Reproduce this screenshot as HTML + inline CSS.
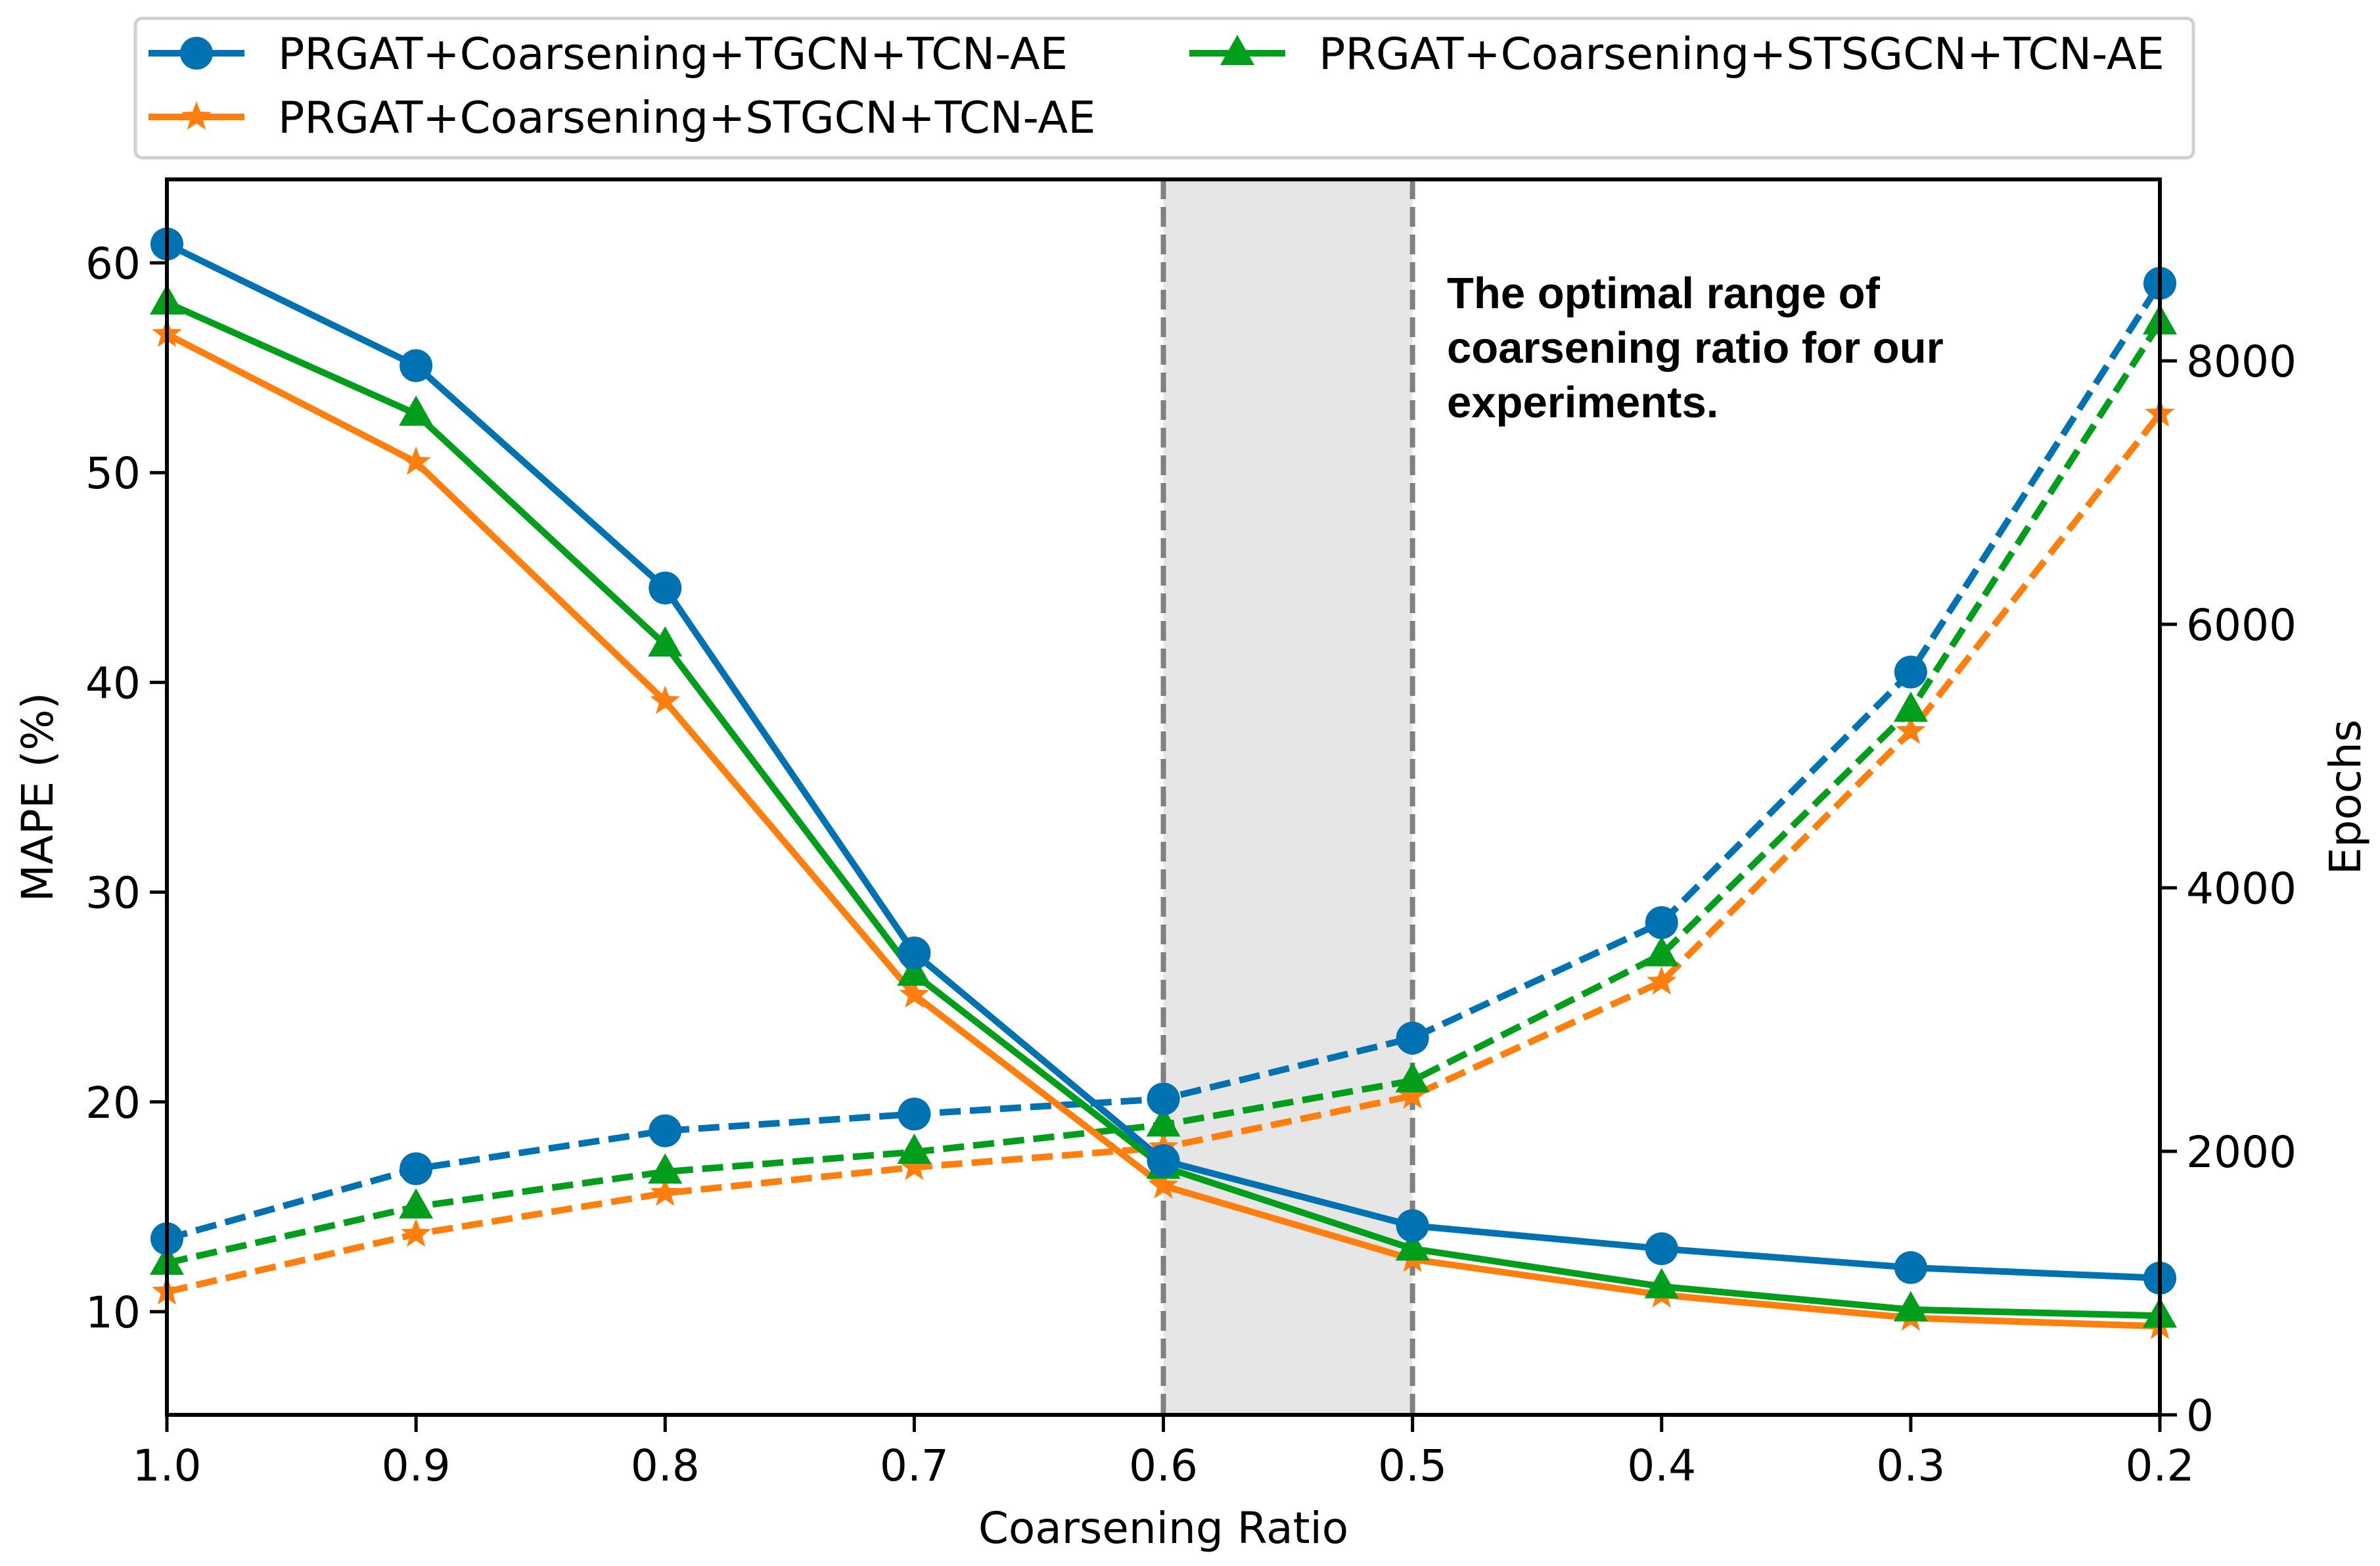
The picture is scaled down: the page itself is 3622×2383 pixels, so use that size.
<!DOCTYPE html>
<html><head><meta charset="utf-8"><style>
html,body{margin:0;padding:0;background:#fff}
svg{display:block;font-family:"DejaVu Sans","Liberation Sans",sans-serif}
</style></head><body>
<svg id="chart" width="3622" height="2383" viewBox="0 0 3622 2383" xmlns="http://www.w3.org/2000/svg">
<g id="plot"></g>
</svg>
<script>
const ratios=[1.0,0.9,0.8,0.7,0.6,0.5,0.4,0.3,0.2];
const tickLabels=["1.0","0.9","0.8","0.7","0.6","0.5","0.4","0.3","0.2"];
const leftTicks=[10,20,30,40,50,60];
const rightTicks=[0,2000,4000,6000,8000];
const mapeTGCN=[60.9,55.1,44.5,27.1,17.2,14.1,13.0,12.1,11.6];
const mapeSTSGCN=[58.1,52.8,41.8,26.1,16.9,13.0,11.2,10.1,9.8];
const mapeSTGCN=[56.6,50.5,39.1,25.1,16.0,12.5,10.8,9.7,9.3];
const epochTGCN=[1337,1868,2156,2283,2398,2860,3736,5638,8588];
const epochSTSGCN=[1153,1580,1845,1995,2202,2537,3494,5350,8290];
const epochSTGCN=[934,1372,1683,1879,2029,2421,3286,5188,7598];

const L=254,R=3287,T=273,B=2153;
const x=v=>L+(1.0-v)/0.8*(R-L);
const yl=v=>B-(v-5.08)/(63.98-5.08)*(B-T);
const yr=v=>B-v/9377*(B-T);
const NS="http://www.w3.org/2000/svg";
const g=document.getElementById('plot');
function mk(tag,attrs,parent){const e=document.createElementNS(NS,tag);for(const k in attrs)e.setAttribute(k,attrs[k]);(parent||g).appendChild(e);return e;}
function txt(s,attrs,parent){const e=mk('text',attrs,parent);e.textContent=s;return e;}

const sh=mk('rect',{x:x(0.6),y:T,width:x(0.5)-x(0.6),height:B-T,fill:'#e6e6e6'});


[0.6,0.5].forEach(v=>{const l=mk('line',{x1:x(v),x2:x(v),y1:T,y2:B,stroke:'#808080','stroke-width':8,'stroke-dasharray':'30 12'});

});

const blue='#0072b2',orange='#ff7f0e',green='#009e1a';
function marker(type,cx,cy,color,parent){
  if(type==='o')return mk('circle',{cx,cy,r:25,fill:color},parent);
  if(type==='^')return mk('polygon',{points:`${cx},${cy-28} ${cx+26},${cy+18} ${cx-26},${cy+18}`,fill:color},parent);
  let p=[];for(let i=0;i<10;i++){const a=-Math.PI/2+i*Math.PI/5,r=i%2?10:24;p.push((cx+r*Math.cos(a)).toFixed(1)+','+(cy+r*Math.sin(a)).toFixed(1));}
  return mk('polygon',{points:p.join(' '),fill:color},parent);
}
function series(vals,yf,color,type,dashed,name){
  const sg=mk('g',{});
  
  
  const pts=vals.map((v,i)=>x(ratios[i]).toFixed(1)+','+yf(v).toFixed(1)).join(' ');
  const attrs={points:pts,fill:'none',stroke:color,'stroke-width':10,'stroke-linejoin':'round'};
  if(dashed)attrs['stroke-dasharray']='32 14';
  mk('polyline',attrs,sg);
  vals.forEach((v,i)=>{const m=marker(type,x(ratios[i]),yf(v),color,sg);
    
    });
}
series(epochSTGCN,yr,orange,'*',true,'epochs-stgcn-line');
series(epochSTSGCN,yr,green,'^',true,'epochs-stsgcn-line');
series(epochTGCN,yr,blue,'o',true,'epochs-tgcn-line');
series(mapeSTGCN,yl,orange,'*',false,'mape-stgcn-line');
series(mapeSTSGCN,yl,green,'^',false,'mape-stsgcn-line');
series(mapeTGCN,yl,blue,'o',false,'mape-tgcn-line');

const fr=mk('rect',{x:L,y:T,width:R-L,height:B-T,fill:'none',stroke:'#000','stroke-width':6});


const fs=66;
ratios.forEach((v,i)=>{mk('line',{x1:x(v),x2:x(v),y1:B,y2:B+26,stroke:'#000','stroke-width':5});
  const t=txt(tickLabels[i],{x:x(v),y:B+100,'font-size':fs,'text-anchor':'middle'});
  
  });
leftTicks.forEach(v=>{mk('line',{x1:L-26,x2:L,y1:yl(v),y2:yl(v),stroke:'#000','stroke-width':5});
  const t=txt(String(v),{x:L-40,y:yl(v)+24,'font-size':fs,'text-anchor':'end'});
  
  });
rightTicks.forEach(v=>{mk('line',{x1:R,x2:R+26,y1:yr(v),y2:yr(v),stroke:'#000','stroke-width':5});
  const t=txt(String(v),{x:R+40,y:yr(v)+24,'font-size':fs,'text-anchor':'start'});
  
  });
const xt=txt('Coarsening Ratio',{x:(L+R)/2,y:2348,'font-size':fs,'text-anchor':'middle'});


const ylt=txt('MAPE (%)',{x:0,y:0,'font-size':fs,'text-anchor':'middle',transform:'translate(80,1213) rotate(-90)'});


const yrt=txt('Epochs',{x:0,y:0,'font-size':fs,'text-anchor':'middle',transform:'translate(3592,1213) rotate(-90)'});



const ann=mk('g',{});


['The optimal range of','coarsening ratio for our','experiments.'].forEach((s,i)=>txt(s,{x:2202,y:469+i*83,'font-size':67,'font-weight':'bold','font-family':'Liberation Sans, sans-serif'},ann));

const lg=mk('g',{});


mk('rect',{x:206,y:28,width:3132,height:212,rx:10,fill:'#fff',stroke:'#d0d0d0','stroke-width':5},lg);
const entries=[['PRGAT+Coarsening+TGCN+TCN-AE',blue,'o',226,81],['PRGAT+Coarsening+STGCN+TCN-AE',orange,'*',226,178],['PRGAT+Coarsening+STSGCN+TCN-AE',green,'^',1810,81]];
entries.forEach(e=>{const eg=mk('g',{},lg);
  
  
  mk('line',{x1:e[3],x2:e[3]+146,y1:e[4],y2:e[4],stroke:e[1],'stroke-width':10},eg);
  marker(e[2],e[3]+73,e[4],e[1],eg);
  txt(e[0],{x:e[3]+197,y:e[4]+24,'font-size':67},eg);});
</script>
</body></html>
